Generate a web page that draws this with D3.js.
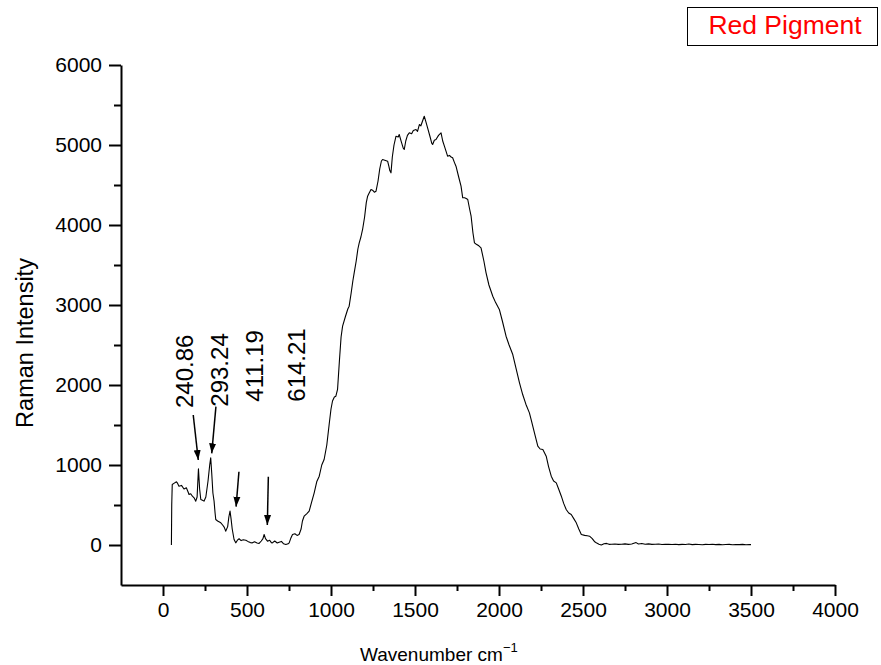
<!DOCTYPE html>
<html>
<head>
<meta charset="utf-8">
<script src="https://cdn.jsdelivr.net/npm/d3@7/dist/d3.min.js"></script>
<style>
  html, body { margin: 0; padding: 0; background: #fff; }
  svg { display: block; font-family: "Liberation Sans", Arial, sans-serif; }
</style>
</head>
<body>
<svg id="chart" width="881" height="665"></svg>
<script>
// ---- Data ----
const wavenumber = [
  50,52,55,65,80,85,95,110,125,139,150,155,165,175,185,195,203,211,218,225,235,244,255,268,278,284,290,297,304,310,314,325,344,355,365,373,385,392,399,405,412,423,433,443,453,465,478,493,505,520,532,545,560,572,585,595,602,610,622,635,645,651,665,680,691,705,718,731,745,751,760,771,785,798,810,822,830,840,855,870,885,900,915,930,945,959,975,989,1000,1009,1020,1029,1039,1050,1060,1069,1085,1100,1108,1120,1130,1138,1150,1160,1168,1178,1188,1200,1210,1218,1225,1232,1238,1250,1258,1268,1280,1290,1300,1307,1320,1337,1345,1350,1357,1365,1375,1387,1400,1406,1420,1430,1436,1445,1455,1466,1480,1490,1506,1515,1526,1535,1545,1555,1565,1575,1590,1600,1605,1615,1625,1640,1655,1665,1675,1685,1694,1705,1715,1724,1735,1744,1760,1774,1784,1795,1805,1814,1825,1834,1845,1854,1865,1880,1893,1910,1923,1940,1963,1980,2002,2020,2042,2060,2082,2100,2122,2141,2160,2181,2191,2211,2231,2245,2261,2281,2295,2311,2325,2341,2355,2371,2385,2400,2415,2430,2445,2460,2475,2490,2510,2525,2539,2555,2570,2579,2595,2609,2625,2640,2655,2670,2690,2710,2730,2750,2770,2790,2816,2830,2850,2870,2890,2910,2930,2950,2970,2990,3010,3030,3050,3070,3090,3110,3130,3150,3170,3190,3210,3230,3250,3270,3290,3310,3330,3350,3370,3390,3410,3430,3450,3470,3490,3500
];
const intensity = [
  0,500,756,770,790,777,735,745,700,715,660,631,640,610,590,548,600,952,700,569,560,548,600,800,1000,1090,900,650,548,400,319,300,277,250,220,173,230,350,423,330,200,69,27,60,78,55,65,60,45,30,27,40,25,19,50,80,131,80,48,60,30,27,50,25,35,45,15,6,15,27,80,131,140,120,131,200,300,360,390,423,540,652,790,860,1000,1069,1250,1506,1700,1800,1850,1860,1944,2300,2600,2735,2850,2950,2985,3150,3300,3402,3550,3700,3777,3850,3944,4100,4280,4360,4390,4420,4444,4430,4410,4423,4550,4700,4800,4819,4810,4798,4730,4680,4652,4850,5000,5110,5100,5131,5030,4960,4944,5050,5120,5152,5140,5180,5194,5170,5256,5240,5300,5360,5290,5215,5100,5020,5006,5060,5069,5120,5152,5050,4985,4920,4860,4870,4850,4840,4780,4735,4600,4485,4340,4340,4330,4319,4200,4110,3900,3777,3760,3740,3715,3550,3402,3250,3110,3030,2944,2800,2610,2500,2381,2220,2027,1881,1760,1652,1569,1402,1235,1200,1194,1110,980,860,800,777,700,610,520,444,400,381,330,277,200,131,120,115,110,80,40,27,10,0,15,20,8,10,12,8,10,14,8,12,30,12,18,10,14,8,10,12,6,10,8,6,10,5,8,6,12,5,8,6,4,8,6,10,5,8,4,6,8,4,6,5,8,4,6,5
];

const xMajorTicks = [0, 500, 1000, 1500, 2000, 2500, 3000, 3500, 4000];
const xMinorTicks = [250, 750, 1250, 1750, 2250, 2750, 3250, 3750];
const yMajorTicks = [0, 1000, 2000, 3000, 4000, 5000, 6000];
const yMinorTicks = [500, 1500, 2500, 3500, 4500, 5500];

// peak annotations: label text, label anchor (wavenumber, intensity), arrow start & end
const peakLabels = ["240.86", "293.24", "411.19", "614.21"];
const labelAnchorX = [179, 387, 595, 845];
const labelAnchorY = [1712, 1729, 1791, 1791];
const arrowFromX = [180, 315, 452, 627];
const arrowFromY = [1625, 1729, 916, 854];
const arrowToX = [210, 290, 435, 621];
const arrowToY = [1062, 1146, 479, 250];

const legendLabel = "Red Pigment";

// ---- Drawing ----
const svg = d3.select("#chart");
const x = d3.scaleLinear().domain([-250, 4000]).range([121, 835]);
const y = d3.scaleLinear().domain([-500, 6000]).range([585, 65]);

const defs = svg.append("defs");
defs.append("marker")
  .attr("id", "arrowhead")
  .attr("viewBox", "0 0 10 10")
  .attr("refX", 10).attr("refY", 5)
  .attr("markerWidth", 10).attr("markerHeight", 10)
  .attr("markerUnits", "userSpaceOnUse")
  .attr("orient", "auto")
  .append("path").attr("d", "M0,1.5 L10,5 L0,8.5 Z").attr("fill", "#000");

// X axis
const xAxisG = svg.append("g").attr("transform", `translate(0,${y(-500)})`);
xAxisG.call(d3.axisBottom(x).tickValues(xMajorTicks).tickSize(11).tickSizeOuter(0).tickPadding(6).tickFormat(d3.format("d")));
const xMinorG = svg.append("g").attr("transform", `translate(0,${y(-500)})`);
xMinorG.call(d3.axisBottom(x).tickValues(xMinorTicks).tickSize(6).tickSizeOuter(0).tickFormat(""));
xMinorG.select(".domain").remove();

// Y axis
const yAxisG = svg.append("g").attr("transform", `translate(${x(-250)},0)`);
yAxisG.call(d3.axisLeft(y).tickValues(yMajorTicks).tickSize(12).tickSizeOuter(0).tickPadding(7).tickFormat(d3.format("d")));
const yMinorG = svg.append("g").attr("transform", `translate(${x(-250)},0)`);
yMinorG.call(d3.axisLeft(y).tickValues(yMinorTicks).tickSize(7).tickSizeOuter(0).tickFormat(""));
yMinorG.select(".domain").remove();

svg.selectAll(".domain, .tick line").attr("stroke", "#000").attr("stroke-width", 2);
svg.selectAll(".tick text").attr("fill", "#000").attr("font-size", 21)
  .attr("font-family", "'Liberation Sans', Arial, sans-serif");

// Spectrum line
const pts = wavenumber.map((w, i) => [w, intensity[i]]);
svg.append("path")
  .datum(pts)
  .attr("fill", "none")
  .attr("stroke", "#000")
  .attr("stroke-width", 1.1)
  .attr("stroke-linejoin", "round")
  .attr("d", d3.line().x(d => x(d[0])).y(d => y(d[1])));

// Peak labels
peakLabels.forEach((t, i) => {
  svg.append("text")
    .attr("transform", `translate(${x(labelAnchorX[i])},${y(labelAnchorY[i])}) rotate(-90)`)
    .attr("font-size", 24)
    .attr("fill", "#000")
    .text(t);
  svg.append("line")
    .attr("x1", x(arrowFromX[i])).attr("y1", y(arrowFromY[i]))
    .attr("x2", x(arrowToX[i])).attr("y2", y(arrowToY[i]))
    .attr("stroke", "#000").attr("stroke-width", 1.5)
    .attr("marker-end", "url(#arrowhead)");
});

// Axis titles
svg.append("text")
  .attr("transform", "translate(33,343) rotate(-90)")
  .attr("text-anchor", "middle")
  .attr("font-size", 23.5)
  .attr("fill", "#000")
  .text("Raman Intensity");

const xt = svg.append("text")
  .attr("x", 360).attr("y", 661)
  .attr("font-size", 19)
  .attr("fill", "#000");
xt.append("tspan").text("Wavenumber cm");
xt.append("tspan").attr("dy", -9).attr("font-size", 13).text("\u22121");

// Legend
svg.append("rect")
  .attr("x", 687.5).attr("y", 7.5).attr("width", 190).attr("height", 38)
  .attr("fill", "#fff").attr("stroke", "#000").attr("stroke-width", 1);
svg.append("text")
  .attr("x", 785).attr("y", 34)
  .attr("text-anchor", "middle")
  .attr("font-size", 26.5)
  .attr("fill", "#ff0000")
  .text(legendLabel);
</script>
</body>
</html>
